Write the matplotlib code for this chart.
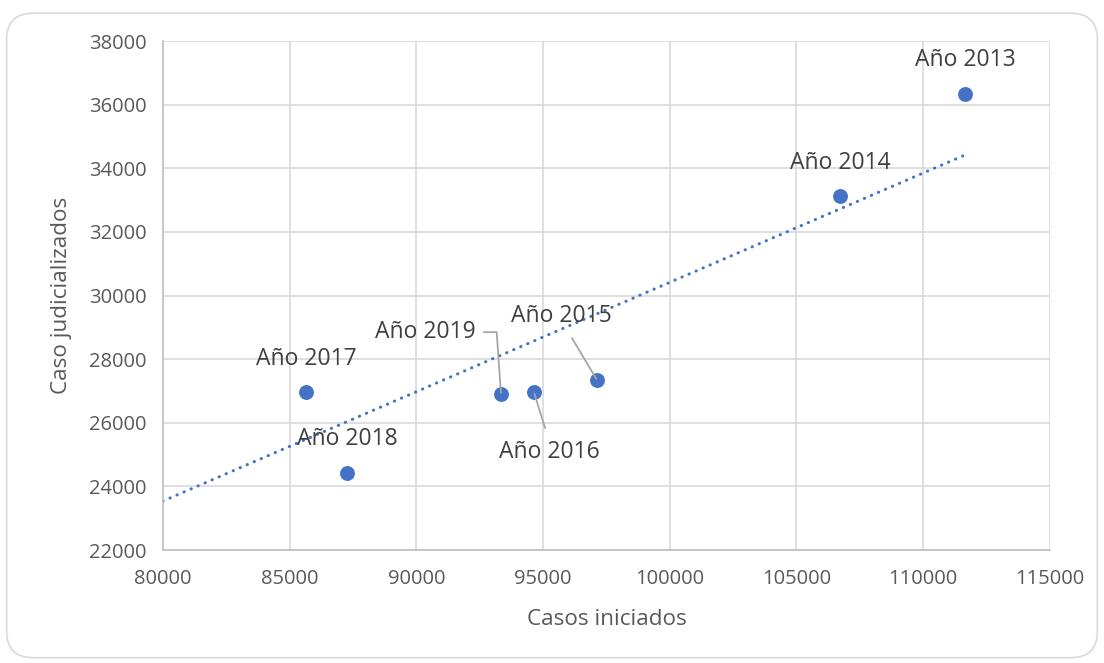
import matplotlib
matplotlib.use("Agg")
import matplotlib.pyplot as plt
from matplotlib.patches import FancyBboxPatch

plt.rcParams['font.family'] = ['Open Sans', 'DejaVu Sans']

# Casos iniciados vs. casos judicializados por año
anios = ["Año 2013", "Año 2014", "Año 2015", "Año 2016", "Año 2019", "Año 2017", "Año 2018"]
casos_iniciados = [111650, 106720, 97130, 94640, 93340, 85640, 87260]
casos_judicializados = [36330, 33130, 27340, 26960, 26900, 26960, 24420]

# extremos de la línea de tendencia
tendencia_x = [80000, 111650]
tendencia_y = [23540, 34420]

# desplazamiento de cada etiqueta (pixeles)
desplazamientos = [(0, 34), (0, 33), (-36, 64), (15, -60), (-76, 62), (0, 33), (0, 34)]

azul = "#4472C4"
texto = "#404040"

fig = plt.figure(figsize=(11.04, 6.63), dpi=100)
marco = FancyBboxPatch((0.006, 0.008), 0.988, 0.972, boxstyle="round,pad=0,rounding_size=0.024",
                       transform=fig.transFigure, facecolor="white", edgecolor="#D9D9D9",
                       linewidth=1.2, mutation_aspect=1104 / 663, zorder=-1)
fig.patches.append(marco)

ax = fig.add_axes([0.1476, 0.1704, 0.8034, 0.7676])
ax.set_facecolor("none")

ax.plot(tendencia_x, tendencia_y, color=azul, linewidth=2.2,
        linestyle=(0, (0.1, 2.4)), dash_capstyle="round", zorder=2)
ax.scatter(casos_iniciados, casos_judicializados, s=115, color=azul, zorder=3, linewidths=0)

for i, (etiqueta, x, y) in enumerate(zip(anios, casos_iniciados, casos_judicializados)):
    dx, dy = desplazamientos[i]
    props = None
    if etiqueta == "Año 2015":
        props = dict(arrowstyle="-", color="#A6A6A6", lw=1.3, relpos=(0.55, 0), shrinkA=6, shrinkB=1)
    elif etiqueta == "Año 2016":
        props = dict(arrowstyle="-", color="#A6A6A6", lw=1.3, relpos=(0.5, 1), shrinkA=7, shrinkB=1)
    elif etiqueta == "Año 2019":
        props = dict(arrowstyle="-", color="#A6A6A6", lw=1.3, relpos=(1, 0.5), shrinkA=4, shrinkB=1,
                     connectionstyle="angle,angleA=0,angleB=94,rad=0")
    ax.annotate(etiqueta, (x, y), xytext=(dx, dy), textcoords="offset pixels",
                ha="center", va="center", fontsize=16.5, color=texto, arrowprops=props, zorder=4)

ax.set_xlim(80000, 115000)
ax.set_ylim(22000, 38000)
ax.set_xticks(range(80000, 115001, 5000))
ax.set_yticks(range(22000, 38001, 2000))
ax.grid(True, color="#D9D9D9", linewidth=1.2, zorder=0)
ax.set_axisbelow(True)
for lado in ["top", "right"]:
    ax.spines[lado].set_visible(False)
for lado in ["left", "bottom"]:
    ax.spines[lado].set_color("#BFBFBF")
    ax.spines[lado].set_linewidth(1.2)
ax.tick_params(axis="x", length=0, labelsize=14.5, labelcolor="#595959", pad=14)
ax.tick_params(axis="y", length=0, labelsize=14.5, labelcolor="#595959", pad=12)

ax.set_xlabel("Casos iniciados", fontsize=16.2, color="#595959", labelpad=14)
ax.set_ylabel("Caso judicializados", fontsize=16.2, color="#595959", labelpad=12)

fig.savefig("out.png", dpi=100)
